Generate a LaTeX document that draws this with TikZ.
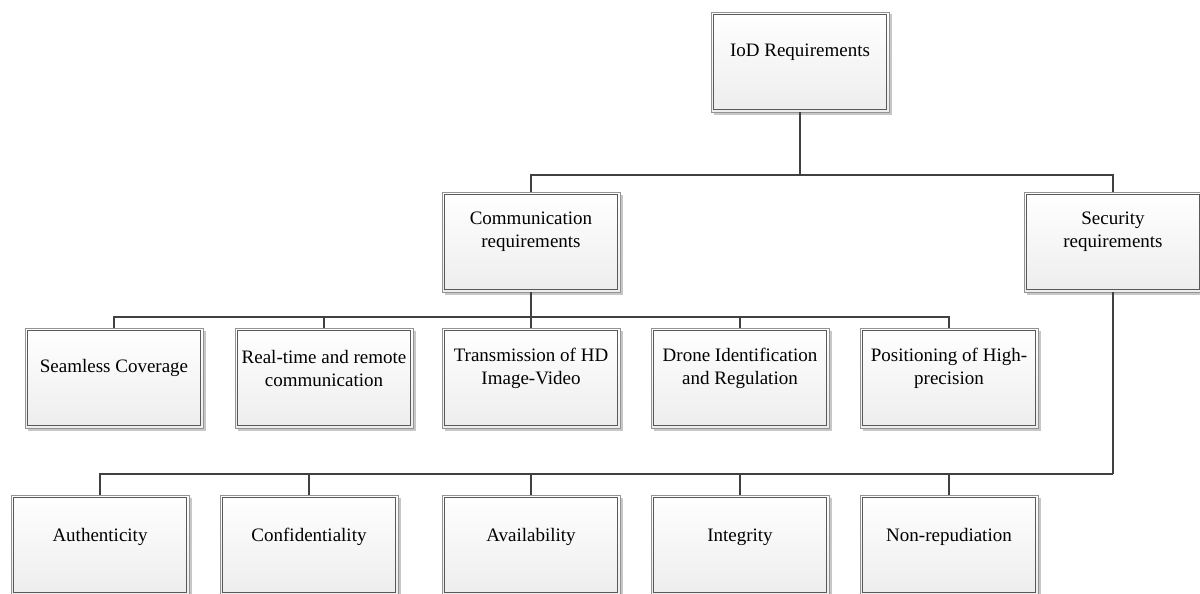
\documentclass[tikz,border=0pt]{standalone}
\usepackage{fontspec}
\setmainfont{Liberation Serif}
\usetikzlibrary{shadows}

\tikzset{
  reqbox/.style={rectangle, draw=gray!85, line width=0.9pt,
    top color=white, bottom color=gray!14,
    minimum width=178pt, minimum height=100pt,
    drop shadow={shadow xshift=2.5pt, shadow yshift=-2.5pt, fill=black!22, opacity=1},
    path picture={\draw[draw=black!65, line width=0.9pt]
      ([shift={(2.6pt,-2.6pt)}]path picture bounding box.north west) rectangle
      ([shift={(-2.6pt,2.6pt)}]path picture bounding box.south east);}},
  reqtext/.style={align=center, inner sep=0pt, font=\fontsize{19}{23}\selectfont},
  link/.style={draw=black!75, line width=1.6pt}
}

\begin{document}
\begin{tikzpicture}[x=1pt,y=-1pt]
    \useasboundingbox (0,0) rectangle (1200,594);

    % root
    \node[reqbox] (iod) at (800,62) {};
    \node[reqtext] (iodt) at ([yshift=10pt]iod.center) {IoD Requirements};

    % second level
    \node[reqbox] (comm) at (531,242) {};
    \node[reqtext] (commt) at ([yshift=10pt]comm.center) {Communication\\requirements};
    \node[reqbox] (sec) at (1113,242) {};
    \node[reqtext] (sect) at ([yshift=10pt]sec.center) {Security\\requirements};

    % communication requirements
    \node[reqbox] (s1) at (114,378) {};
    \node[reqtext] (s1t) at ([yshift=10pt]s1.center) {Seamless Coverage};
    \node[reqbox] (s2) at (324,378) {};
    \node[reqtext] (s2t) at ([yshift=10pt]s2.center) {Real-time and remote\\communication};
    \node[reqbox] (s3) at (531,378) {};
    \node[reqtext] (s3t) at ([yshift=10pt]s3.center) {Transmission of HD\\Image-Video};
    \node[reqbox] (s4) at (740,378) {};
    \node[reqtext] (s4t) at ([yshift=10pt]s4.center) {Drone Identification\\and Regulation};
    \node[reqbox] (s5) at (949,378) {};
    \node[reqtext] (s5t) at ([yshift=10pt]s5.center) {Positioning of High-\\precision};

    % security requirements
    \node[reqbox] (a1) at (100,545) {};
    \node[reqtext] (a1t) at ([yshift=8pt]a1.center) {Authenticity};
    \node[reqbox] (a2) at (309,545) {};
    \node[reqtext] (a2t) at ([yshift=8pt]a2.center) {Confidentiality};
    \node[reqbox] (a3) at (531,545) {};
    \node[reqtext] (a3t) at ([yshift=8pt]a3.center) {Availability};
    \node[reqbox] (a4) at (740,545) {};
    \node[reqtext] (a4t) at ([yshift=8pt]a4.center) {Integrity};
    \node[reqbox] (a5) at (949,545) {};
    \node[reqtext] (a5t) at ([yshift=8pt]a5.center) {Non-repudiation};

    % connectors
    \coordinate (j1) at (800,175);
    \draw[link] (iod.south) -- (j1) -| (comm.north);
    \draw[link] (j1) -| (sec.north);

    \coordinate (j2) at (531,317);
    \draw[link] (comm.south) -- (j2);
    \draw[link] (j2) -| (s1.north);
    \draw[link] (j2) -| (s2.north);
    \draw[link] (j2) -- (s3.north);
    \draw[link] (j2) -| (s4.north);
    \draw[link] (j2) -| (s5.north);

    \coordinate (j3) at (1113,474);
    \draw[link] (sec.south) -- (j3);
    \draw[link] (j3) -| (a1.north);
    \draw[link] (j3) -| (a2.north);
    \draw[link] (j3) -| (a3.north);
    \draw[link] (j3) -| (a4.north);
    \draw[link] (j3) -| (a5.north);
\end{tikzpicture}
\end{document}
